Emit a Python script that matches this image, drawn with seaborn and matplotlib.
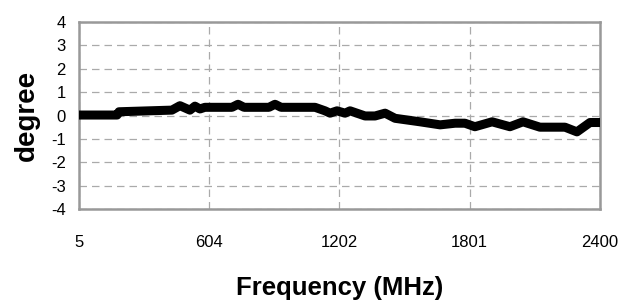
import matplotlib
matplotlib.use("Agg")
import matplotlib.pyplot as plt
import seaborn as sns
import pandas as pd

freq = [5, 180, 189, 432, 469, 515, 538, 561, 584, 708, 736, 764, 878, 906, 934,
        1090, 1136, 1159, 1191, 1228, 1251, 1320, 1366, 1412, 1458, 1573, 1665,
        1734, 1779, 1825, 1904, 1986, 2046, 2124, 2239, 2294, 2354, 2400]
degree = [0.02, 0.02, 0.16, 0.23, 0.42, 0.23, 0.40, 0.28, 0.35, 0.35, 0.48, 0.35,
          0.35, 0.48, 0.35, 0.35, 0.20, 0.10, 0.20, 0.10, 0.20, -0.02, -0.02, 0.10,
          -0.12, -0.27, -0.40, -0.33, -0.33, -0.48, -0.27, -0.48, -0.27, -0.50,
          -0.50, -0.70, -0.30, -0.30]
xticks = [5, 604, 1202, 1801, 2400]
yticks = [-4, -3, -2, -1, 0, 1, 2, 3, 4]

sns.set_theme(style="white")
plt.rcParams['font.family'] = ['Liberation Sans', 'DejaVu Sans']
plt.rcParams['text.color'] = 'black'
plt.rcParams['axes.labelcolor'] = 'black'

df = pd.DataFrame({"Frequency": freq, "degree": degree})

fig = plt.figure(figsize=(6.21, 3.04), dpi=100)
ax = fig.add_axes([79/621, 1-209/304, (600-79)/621, (209-22)/304])

sns.lineplot(data=df, x="Frequency", y="degree", ax=ax, color="black",
             linewidth=6.5, solid_joinstyle="round", solid_capstyle="round", zorder=3)

ax.set_xlim(5, 2400)
ax.set_ylim(-4, 4)
ax.set_xticks(xticks)
ax.set_xticklabels([str(v) for v in xticks])
ax.set_yticks(yticks)
ax.set_yticklabels([str(v) for v in yticks])
ax.grid(True, color="#aaaaaa", linestyle=(0, (6, 4)), linewidth=0.9)
ax.tick_params(axis="both", length=0, labelsize=12, colors="black", labelcolor="black")
ax.tick_params(axis="x", pad=18.5)
ax.tick_params(axis="y", pad=9.5)
for s in ax.spines.values():
    s.set_color("#999999")
    s.set_linewidth(1.8)

ax.set_xlabel("Frequency (MHz)", fontsize=18.5, fontweight="bold", labelpad=19, color="black")
ax.set_ylabel("degree", fontsize=20, fontweight="bold", labelpad=8, color="black")

fig.savefig("out.png", dpi=100)
